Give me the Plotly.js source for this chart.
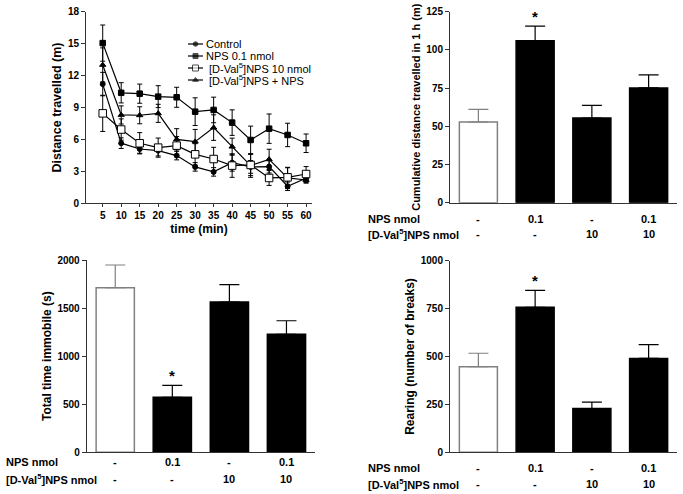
<!DOCTYPE html>
<html>
<head>
<meta charset="utf-8">
<script src="https://cdn.plot.ly/plotly-3.0.1.min.js"></script>
<style>
  html, body { margin: 0; padding: 0; background: #fff; }
  #chart { width: 683px; height: 494px; }
</style>
</head>
<body>
<div id="chart"></div>
<script>
// Données
const times = [5, 10, 15, 20, 25, 30, 35, 40, 45, 50, 55, 60];

const controlMean = [11.2, 5.65, 5.1, 4.95, 4.48, 3.42, 2.95, 3.82, 3.42, 3.45, 1.6, 2.35];
const controlSem  = [1.1, 0.5, 0.4, 0.5, 0.4, 0.4, 0.4, 0.8, 0.6, 0.6, 0.4, 0.4];
const npsMean     = [15.05, 10.38, 10.3, 10.02, 9.96, 8.61, 8.77, 7.58, 5.95, 7.01, 6.42, 5.64];
const npsSem      = [1.7, 0.95, 0.9, 1.03, 0.94, 1.3, 1.2, 1.2, 1.3, 1.38, 1.1, 0.87];
const dvalMean    = [8.45, 6.93, 5.64, 5.23, 5.42, 4.6, 4.16, 3.54, 3.6, 2.38, 2.44, 2.75];
const dvalSem     = [1.7, 1.0, 1.0, 0.9, 0.85, 1.0, 1.1, 1.1, 1.0, 0.7, 0.9, 0.7];
const comboMean   = [13.0, 8.3, 8.27, 8.45, 6.01, 5.79, 7.11, 5.32, 3.54, 4.13, 2.38, 2.19];
const comboSem    = [1.6, 0.85, 0.8, 0.85, 1.0, 1.15, 1.2, 0.8, 1.1, 0.95, 1.0, 0.3];

const legendLabels = ['Control', 'NPS 0.1 nmol', ' [D-Val<sup>5</sup>]NPS 10 nmol', ' [D-Val<sup>5</sup>]NPS + NPS'];

const groups = [0, 1, 2, 3];
const npsRow  = ['-', '0.1', '-', '0.1'];
const dvalRow = ['-', '-', '10', '10'];

const cumDistance = [52.8, 106, 55.4, 75.1];
const cumSem      = [8.3, 9.6, 8.3, 8.5];
const immobile    = [1712, 572, 1563, 1227];
const immobileSem = [236, 125, 180, 141];
const rearing     = [447, 757, 228, 490];
const rearingSem  = [70, 88, 34, 72];

const starGroup = 1;

// Styles
const FONT = 'Liberation Sans, Arial, sans-serif';
const AXIS_COLOR = '#333';
const W = 683, H = 494;

function px(x) { return x / W; }
function py(y) { return 1 - y / H; }

const traces = [];

// Courbes du graphique temporel
function lineTrace(y, sem, symbol, size, fill) {
    return {
        x: times, y: y,
        xaxis: 'x', yaxis: 'y',
        type: 'scatter', mode: 'lines+markers',
        line: { color: '#000', width: 1.2 },
        marker: { symbol: symbol, size: size, color: fill, line: { color: '#000', width: 1 } },
        error_y: { type: 'data', array: sem, color: '#000', thickness: 1, width: 2.5 },
        showlegend: false, hoverinfo: 'skip'
    };
}
traces.push(lineTrace(controlMean, controlSem, 'circle', 5, '#000'));
traces.push(lineTrace(npsMean, npsSem, 'square', 5.5, '#000'));
traces.push(lineTrace(comboMean, comboSem, 'triangle-up', 5.5, '#000'));
traces.push(lineTrace(dvalMean, dvalSem, 'square', 7.5, '#fff'));

// Légende (axe caché)
const legendSymbols = [
    ['circle', 4.5, '#000'],
    ['square', 5, '#000'],
    ['square', 6, '#fff'],
    ['triangle-up', 5, '#000']
];
legendSymbols.forEach(function (s, i) {
    traces.push({
        x: [0, 1, 2], y: [i, i, i],
        xaxis: 'x5', yaxis: 'y5',
        type: 'scatter', mode: 'lines+markers',
        line: { color: '#000', width: 1.2 },
        marker: { symbol: s[0], size: [0, s[1], 0], color: s[2], line: { color: '#000', width: [0, 1, 0] } },
        showlegend: false, hoverinfo: 'skip'
    });
});

// Barres
function barTraces(xa, ya, values, sems) {
    const out = [];
    groups.forEach(function (g, i) {
        const first = i === 0;
        out.push({
            x: [g], y: [values[i]],
            xaxis: xa, yaxis: ya,
            type: 'bar', width: 0.67,
            marker: { color: first ? '#fff' : '#000', line: { color: first ? '#808080' : '#000', width: 1.5 } },
            error_y: { type: 'data', symmetric: false, array: [sems[i]], arrayminus: [0],
                       color: first ? '#808080' : '#000', thickness: 1.2, width: 10 },
            showlegend: false, hoverinfo: 'skip'
        });
    });
    return out;
}
traces.push(...barTraces('x2', 'y2', cumDistance, cumSem));
traces.push(...barTraces('x3', 'y3', immobile, immobileSem));
traces.push(...barTraces('x4', 'y4', rearing, rearingSem));

const tickFont = { family: FONT, size: 10, color: '#000', weight: 'bold' };
const titleFont = { family: FONT, size: 12, color: '#000', weight: 'bold' };
const tableFont = { family: FONT, size: 11, color: '#000', weight: 'bold' };

function valueAxis(domain, range, dtick, anchor, title, size) {
    return {
        domain: domain, range: range, dtick: dtick, anchor: anchor,
        showgrid: false, zeroline: false, showline: true, linecolor: AXIS_COLOR, linewidth: 1,
        ticks: 'outside', ticklen: 4, tickcolor: AXIS_COLOR, tickfont: tickFont,
        title: { text: title, font: Object.assign({}, titleFont, { size: size }), standoff: 3 },
        fixedrange: true
    };
}
function groupAxis(domain, anchor) {
    return {
        domain: domain, range: [-0.5, 3.5], anchor: anchor,
        showgrid: false, zeroline: false, showline: true, linecolor: AXIS_COLOR, linewidth: 1,
        ticks: '', showticklabels: false, fixedrange: true
    };
}

const annotations = [];

// Légende : textes
legendLabels.forEach(function (t, i) {
    annotations.push({
        xref: 'x5', yref: 'y5', x: 2, y: i, text: t, showarrow: false,
        xanchor: 'left', yanchor: 'middle', xshift: 1,
        font: { family: FONT, size: 11, color: '#000' }
    });
});

// Tableaux sous les barres et étoiles
function tableRows(xa, ya, values, sems, labelX, row1Y, row2Y) {
    annotations.push({
        xref: 'paper', yref: 'paper', x: px(labelX), y: py(row1Y), text: 'NPS nmol',
        showarrow: false, xanchor: 'left', yanchor: 'middle', font: tableFont
    });
    annotations.push({
        xref: 'paper', yref: 'paper', x: px(labelX), y: py(row2Y), text: '[D-Val<sup>5</sup>]NPS nmol',
        showarrow: false, xanchor: 'left', yanchor: 'middle', font: tableFont
    });
    groups.forEach(function (g, i) {
        annotations.push({
            xref: xa, yref: 'paper', x: g, y: py(row1Y), text: npsRow[i],
            showarrow: false, xanchor: 'center', yanchor: 'middle', font: tableFont
        });
        annotations.push({
            xref: xa, yref: 'paper', x: g, y: py(row2Y), text: dvalRow[i],
            showarrow: false, xanchor: 'center', yanchor: 'middle', font: tableFont
        });
    });
    annotations.push({
        xref: xa, yref: ya, x: starGroup, y: values[starGroup] + sems[starGroup],
        text: '*', showarrow: false, xanchor: 'center', yanchor: 'bottom', yshift: -1,
        font: { family: FONT, size: 15, color: '#000', weight: 'bold' }
    });
}
tableRows('x2', 'y2', cumDistance, cumSem, 366, 219, 234);
tableRows('x3', 'y3', immobile, immobileSem, 4, 462, 479);
tableRows('x4', 'y4', rearing, rearingSem, 366, 468, 484);

const layout = {
    width: W, height: H,
    margin: { l: 0, r: 0, t: 0, b: 0 },
    paper_bgcolor: '#fff', plot_bgcolor: 'rgba(0,0,0,0)',
    showlegend: false,
    barmode: 'overlay',
    font: { family: FONT, color: '#000' },

    xaxis: {
        domain: [px(86), px(312)], range: [0.48, 61.6], anchor: 'y',
        tickvals: times, showgrid: false, zeroline: false,
        showline: true, linecolor: AXIS_COLOR, linewidth: 1,
        ticks: 'outside', ticklen: 3, tickcolor: AXIS_COLOR, tickfont: tickFont,
        title: { text: 'time (min)', font: titleFont, standoff: 4 }, fixedrange: true
    },
    yaxis: valueAxis([py(203.3), py(11.7)], [0, 18], 3, 'x', 'Distance travelled (m)', 12.5),

    xaxis2: groupAxis([px(450), px(677)], 'y2'),
    yaxis2: valueAxis([py(202.7), py(11.7)], [0, 125], 25, 'x2', 'Cumulative distance travelled in 1 h (m)', 11),

    xaxis3: groupAxis([px(86.7), px(315)], 'y3'),
    yaxis3: valueAxis([py(452.3), py(260)], [0, 2000], 500, 'x3', 'Total time immobile (s)', 12),

    xaxis4: groupAxis([px(450), px(677)], 'y4'),
    yaxis4: valueAxis([py(452.3), py(260.7)], [0, 1000], 250, 'x4', 'Rearing (number of breaks)', 12),

    xaxis5: { domain: [px(188), px(203)], range: [0, 2], visible: false, anchor: 'y5', fixedrange: true },
    yaxis5: { domain: [py(86), py(38)], range: [3.5, -0.5], visible: false, anchor: 'x5', fixedrange: true },

    annotations: annotations
};

Plotly.newPlot('chart', traces, layout, { staticPlot: true, displayModeBar: false });
</script>
</body>
</html>
